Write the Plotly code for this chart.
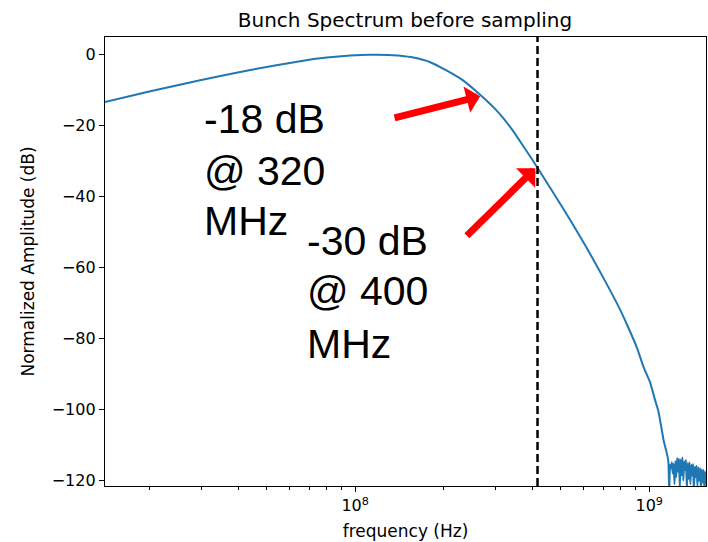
import numpy as np
import plotly.graph_objects as go

# Bunch spectrum: frequency in MHz, normalized amplitude in dB
freq_mhz = [
    14.1, 20.1, 29.7, 44.0, 65.0, 80.0, 96.2, 105.0, 118.6, 130.0, 142.2,
    157.8, 180.0, 205.1, 233.3, 266.1, 303.4, 320.0, 345.1, 370.0, 400.0,
    418.0, 473.0, 538.0, 614.0, 700.0, 796.0, 840.0, 908.0, 957.0, 1007.0,
    1047.0, 1075.0, 1089.0, 1105.0, 1119.0, 1148.0,
    1161.4, 1169.5, 1177.6, 1185.8, 1194.0, 1202.3, 1210.6, 1219.0, 1227.4,
    1235.9, 1244.5, 1253.1, 1261.8, 1270.6, 1279.4, 1288.2, 1297.2, 1306.2,
    1315.2, 1324.3, 1333.5, 1342.8, 1352.1, 1361.4, 1370.9, 1380.4, 1390.0,
    1399.6, 1409.3, 1419.1, 1428.9, 1438.8, 1448.8, 1458.8, 1468.9, 1479.1,
    1489.4, 1499.7, 1510.1, 1520.5, 1531.1, 1541.7, 1552.4, 1563.1,
]
amp_db = [
    -13.3, -10.3, -7.2, -4.3, -1.8, -0.8, -0.2, -0.05, 0.0, -0.1, -0.3,
    -0.8, -2.1, -4.5, -7.3, -11.3, -15.8, -18.0, -21.6, -25.3, -29.5,
    -32.0, -39.0, -46.5, -54.5, -63.0, -71.8, -76.0, -82.5, -88.0, -92.3,
    -97.3, -100.5, -103.0, -106.0, -108.6, -112.3,
    -114.5, -123.0, -115.5, -116.5, -114.8, -118.0, -115.2, -121.0, -114.5,
    -119.0, -113.6, -117.5, -113.8, -122.0, -114.0, -118.5, -113.5, -120.0,
    -114.6, -117.0, -114.2, -122.5, -115.0, -119.5, -114.8, -121.0, -115.5,
    -118.5, -115.3, -123.0, -116.0, -119.0, -115.8, -121.5, -116.2, -120.0,
    -116.5, -122.5, -116.8, -120.5, -117.0, -123.0, -117.5, -121.0,
]

marker_freq_mhz = 417.0          # vertical reference line
x_range_hz = [1.41e7, 1.56e9]
y_range_db = [-121.5, 5.0]
y_ticks = [0, -20, -40, -60, -80, -100, -120]
x_major = [1e8, 1e9]
x_major_text = ["10<sup>8</sup>", "10<sup>9</sup>"]
x_minor = [2e7, 3e7, 4e7, 5e7, 6e7, 7e7, 8e7, 9e7,
           2e8, 3e8, 4e8, 5e8, 6e8, 7e8, 8e8, 9e8]

# Callouts: label lines, arrow tip (MHz, dB), arrow tail offset (px),
# label left edge and line centres (px from the page's top-left corner)
callouts = [
    (["-18 dB", "@ 320", "MHz"], 266.0, -11.7, (-87, 22), 202, [119, 171, 221]),
    (["-30 dB", "@ 400", "MHz"], 410.0, -32.0, (-70, 69), 305, [241, 291, 344]),
]

W, H = 708, 542
M_L, M_R, M_T, M_B = 105, 2, 37, 56
plot_w, plot_h = W - M_L - M_R, H - M_T - M_B

freq_hz = np.array(freq_mhz) * 1e6

fig = go.Figure()
fig.add_trace(go.Scatter(
    x=freq_hz, y=amp_db, mode="lines",
    line=dict(color="#1f77b4", width=2, shape="spline", smoothing=0.5),
    showlegend=False,
))
fig.add_trace(go.Scatter(
    x=[marker_freq_mhz * 1e6] * 2, y=y_range_db, mode="lines",
    line=dict(color="black", width=2.5, dash="8px,4px"), showlegend=False,
))

tick_font = dict(family="DejaVu Sans", size=16, color="black")
label_font = dict(family="DejaVu Sans", size=17, color="black")

for lines, tip_f, tip_db, (ax, ay), left_px, centres in callouts:
    fig.add_annotation(
        x=np.log10(tip_f * 1e6), y=tip_db, xref="x", yref="y",
        text="", showarrow=True, arrowhead=1, arrowsize=0.65, arrowwidth=7,
        arrowcolor="red", ax=ax, ay=ay, standoff=0,
    )
    for line, cy in zip(lines, centres):
        fig.add_annotation(
            x=(left_px - M_L) / plot_w, y=(H - M_B - cy) / plot_h,
            xref="paper", yref="paper", xanchor="left", yanchor="middle",
            text=line, showarrow=False,
            font=dict(family="Liberation Sans", size=41, color="black"),
        )

fig.update_layout(
    width=W, height=H,
    margin=dict(l=M_L, r=M_R, t=M_T, b=M_B),
    paper_bgcolor="white", plot_bgcolor="white",
    title=dict(text="Bunch Spectrum before sampling", x=405 / W, xanchor="center",
               y=1 - 20 / H, yanchor="middle",
               font=dict(family="DejaVu Sans", size=20, color="black")),
    xaxis=dict(
        type="log", range=[np.log10(x_range_hz[0]), np.log10(x_range_hz[1])],
        tickvals=x_major, ticktext=x_major_text, ticks="outside", ticklen=5,
        tickwidth=1, tickcolor="black", showline=True, linecolor="black",
        linewidth=1.3, mirror=True, showgrid=False, zeroline=False,
        tickfont=tick_font,
        minor=dict(tickvals=x_minor, ticks="outside", ticklen=3, tickwidth=1,
                   tickcolor="black", showgrid=False),
        title=dict(text="frequency (Hz)", font=label_font, standoff=10),
    ),
    yaxis=dict(
        range=y_range_db, tickvals=y_ticks, ticks="outside", ticklen=5,
        tickwidth=1, tickcolor="black", showline=True, linecolor="black",
        linewidth=1.3, mirror=True, showgrid=False, zeroline=False,
        tickfont=tick_font,
        title=dict(text="Normalized Amplitude (dB)", font=label_font, standoff=12),
    ),
)

fig.write_html("out.html")
